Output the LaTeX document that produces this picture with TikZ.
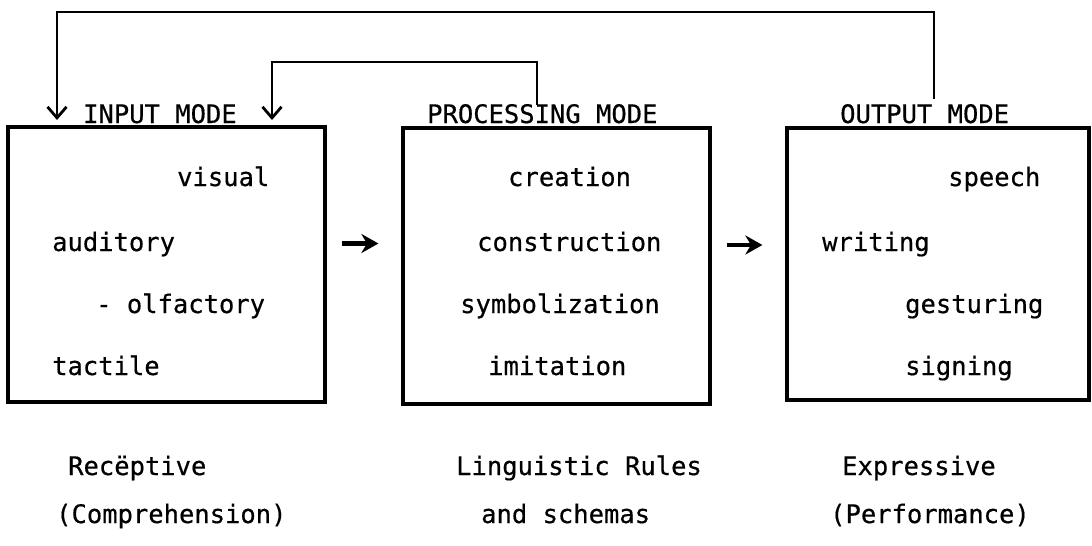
\documentclass[tikz,border=0pt]{standalone}
\usepackage{fontspec}
\newfontfamily\typefont[FakeBold=0.5]{DejaVu Sans Mono}
\usepackage{tikz}
\usetikzlibrary{arrows.meta}
\tikzset{
    modebox/.style = {draw, line width = 3.2pt, inner sep = 0pt},
    entry/.style = {font = \typefont\fontsize{25.5}{30}\selectfont, inner sep = 0pt, anchor = base west},
    feedback/.style = {line width = 2.8pt, -{Straight Barb[length = 11pt, width = 19pt]}},
    flow/.style = {line width = 4.5pt, -{Stealth[length = 17pt, width = 19pt]},
                   shorten < = 15pt, shorten > = 23pt},
}

\begin{document}
\begin{tikzpicture}[x = 1pt, y = -1pt]
\useasboundingbox (0,0) rectangle (1092,546);

% the three mode boxes
\node[modebox, minimum width = 317pt, minimum height = 275pt] (inbox) at (166.5,264.5) {};
\node[modebox, minimum width = 307pt, minimum height = 276pt] (procbox) at (556.5,266) {};
\node[modebox, minimum width = 302pt, minimum height = 272pt] (outbox) at (938,264) {};

% headings over the boxes
\node[entry] (intitle) at (83,123) {INPUT MODE};
\node[entry] (proctitle) at (427,123) {PROCESSING MODE};
\node[entry] (outtitle) at (840,123) {OUTPUT MODE};

% input channels
\node[entry] (visual) at (177,186) {visual};
\node[entry] (auditory) at (52,251) {auditory};
\node[entry] (olfactory) at (96,313) {-  olfactory};
\node[entry] (tactile) at (52,375) {tactile};

% processing
\node[entry] (creation) at (508,186) {creation};
\node[entry] (construction) at (477,251) {construction};
\node[entry] (symbolization) at (460,313) {symbolization};
\node[entry] (imitation) at (488,375) {imitation};

% output channels
\node[entry] (speech) at (948,186) {speech};
\node[entry] (writing) at (822,251) {writing};
\node[entry] (gesturing) at (905,313) {gesturing};
\node[entry] (signing) at (905,375) {signing};

% captions under the boxes
\node[entry] (receptive) at (68,475) {Recëptive};
\node[entry] (comprehension) at (56,523) {(Comprehension)};
\node[entry] (rules) at (456,475) {Linguistic Rules};
\node[entry] (schemas) at (481,523) {and schemas};
\node[entry] (expressive) at (842,475) {Expressive};
\node[entry] (performance) at (830,523) {(Performance)};

% forward flow
\draw[flow] ([yshift = 21pt]inbox.east) -- ([yshift = 21pt]inbox.east -| procbox.west);
\draw[flow] ([yshift = 21pt]procbox.east) -- ([yshift = 21pt]procbox.east -| outbox.west);

% feedback loops back to the input
\coordinate (outtap) at (934,99);
\coordinate (proctap) at (537,105);
\coordinate (inend) at (57,120);
\coordinate (inmid) at (272,120);
\draw[feedback] (outtap) -- ++(0,-87) -| (inend);
\draw[feedback] (proctap) -- ++(0,-43) -| (inmid);
\end{tikzpicture}
\end{document}
